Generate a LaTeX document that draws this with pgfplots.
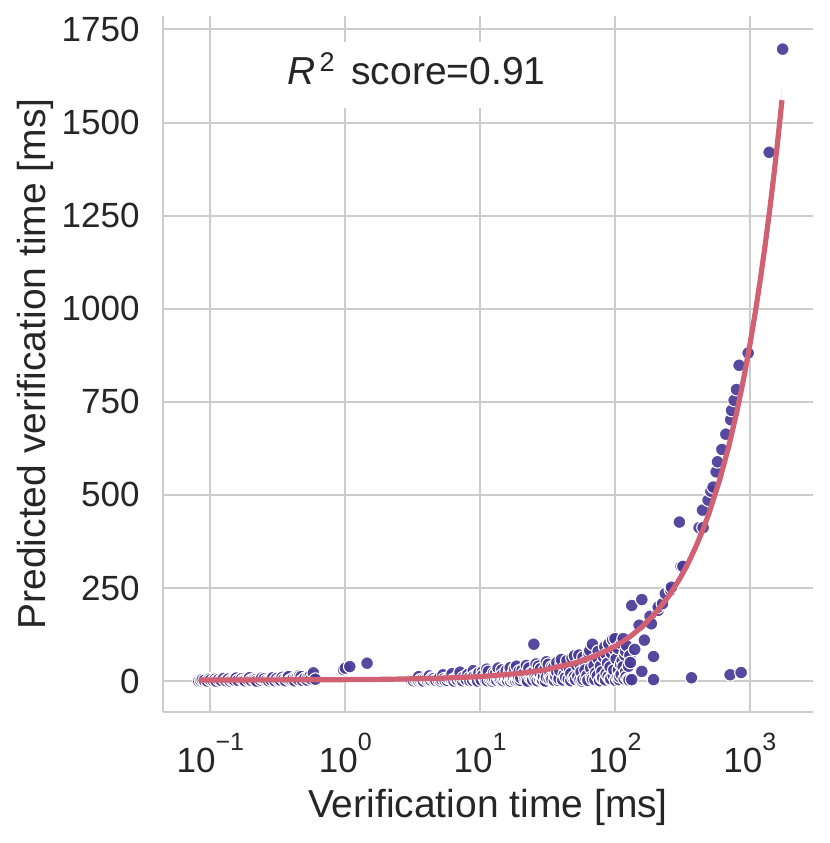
\documentclass[border=0pt]{standalone}
\usepackage{fontspec}
\setmainfont{Liberation Sans}
\usepackage{pgfplots}
\pgfplotsset{compat=1.18}
\definecolor{pts}{RGB}{72,58,152}
\definecolor{reg}{RGB}{208,96,114}
\definecolor{grd}{RGB}{204,204,204}
\definecolor{txt}{RGB}{38,38,38}
\newcommand\xtl[1]{10\raisebox{11pt}{\fontsize{12.5pt}{12.5pt}\selectfont #1}}
\begin{document}
\begin{tikzpicture}
\path[use as bounding box] (0,0) rectangle (415pt,421.5pt);
\begin{axis}[
  at={(81.5pt,65.5pt)}, anchor=south west, scale only axis,
  width=325pt, height=348pt,
  clip mode=individual,
  xmode=log, xmin=0.0445, xmax=2937, ymin=-83, ymax=1786,
  axis x line*=bottom, axis y line*=left,
  axis line style={-, draw=grd, line width=1.25pt},
  grid=major, major grid style={draw=grd, line width=1pt},
  major tick length=0pt, minor tick length=0pt, tick style={draw=none},
  xtick={0.1,1,10,100,1000},
  xticklabels={{\xtl{−1}},{\xtl{0}},{\xtl{1}},{\xtl{2}},{\xtl{3}}},
  ytick={0,250,500,750,1000,1250,1500,1750},
  yticklabels={0,250,500,750,1000,1250,1500,1750},
  tick label style={font=\fontsize{17.5pt}{21pt}\selectfont, text=txt},
  xticklabel style={anchor=base, inner sep=0pt, yshift=-30pt},
  yticklabel style={anchor=east, inner sep=0pt, xshift=-11.5pt},
  label style={font=\fontsize{19.5pt}{23pt}\selectfont, text=txt},
  xlabel={Verification time [ms]},
  ylabel={Predicted verification time [ms]},
  xlabel style={at={(axis description cs:0.5,-0.151)}, anchor=base, inner sep=0pt},
  ylabel style={at={(axis description cs:-0.1815,0.5)}, anchor=base, inner sep=0pt},
]
% scatter points
\addplot[only marks, mark=*, mark size=3.2pt,
  mark options={fill=pts, draw=white, line width=0.55pt, fill opacity=0.92}]
table {
x y
0.082 0
0.085 1
0.087 4
0.09 2
0.095 0
0.098 6
0.1 3
0.105 1
0.108 5
0.11 0
0.115 4
0.12 2
0.125 7
0.13 1
0.135 5
0.14 0
0.145 3
0.15 3
0.155 8
0.16 2
0.17 6
0.175 2
0.18 1
0.19 4
0.195 9
0.2 2
0.21 5
0.215 3
0.22 0
0.235 3
0.24 8
0.25 6
0.26 2
0.27 1
0.28 4
0.29 9
0.3 1
0.31 7
0.32 2
0.33 3
0.34 10
0.35 5
0.36 1
0.37 8
0.38 12
0.39 2
0.4 3
0.41 6
0.42 1
0.43 10
0.44 9
0.45 4
0.46 15
0.47 12
0.48 2
0.5 7
0.52 3
0.53 10
0.55 14
0.56 6
0.58 22
0.6 5
0.97 31
1.0 35
1.08 39
1.45 48
3.1 2
3.2 1
3.3 5
3.4 6
3.5 1
3.5 12
3.6 3
3.7 4
3.8 0
3.9 7
4.0 5
4.1 0
4.2 2
4.2 14
4.3 3
4.4 8
4.5 6
4.6 1
4.7 2
4.9 4
5.0 9
5.1 0
5.2 4
5.3 17
5.4 6
5.5 1
5.7 2
5.8 8
6.0 12
6.1 5
6.2 20
6.3 3
6.4 0
6.6 6
6.8 3
6.9 15
7.0 8
7.1 24
7.2 2
7.4 1
7.5 10
7.8 5
7.9 4
8.0 14
8.1 18
8.3 9
8.4 1
8.7 8
8.8 2
8.9 28
9.0 13
9.2 6
9.4 4
9.5 18
9.6 0
9.8 22
10 7
10.2 3
10.4 25
10.5 16
10.8 8
11 2
11.2 32
11.3 1
11.5 26
11.8 5
12 10
12.3 0
12.5 5
12.6 22
12.8 7
13 20
13.3 2
13.5 13
13.6 35
13.8 9
14 3
14.3 4
14.5 30
14.6 17
14.8 1
15 8
15.3 6
15.5 18
15.6 28
15.8 3
16 1
16.3 10
16.5 24
16.7 36
16.8 0
17 11
17.3 4
17.5 5
17.6 20
17.8 8
18 33
18.3 1
18.5 15
18.6 40
18.8 5
19 2
19.3 9
19.5 27
19.8 2
20 9
20.5 30
21 20
21.5 6
22 4
22 42
22.5 0
23 35
23.5 9
24 12
24 22
24.5 3
25 99
25 26
25.5 11
26 6
26 46
26.5 1
27 40
27.5 7
28 17
28 33
28.5 4
29 3
29.5 12
30 30
30.5 0
31 10
31 52
32 45
32.5 6
33 22
33.5 9
34 5
34 38
35 36
35.5 2
36 14
36.5 11
37 50
37 25
38 2
38.5 7
39 28
40 47
40 58
41 3
42 18
43 10
43 40
44 55
45 5
46 33
47 1
47 20
48 62
49 8
50 12
50 68
51 4
52 42
53 13
54 70
55 3
55 45
56 25
57 0
58 64
58 4.5
60 50
60 30
61 7
62 15
63 2
64 75
65 82
66 35
67 10
68 99
68 5
70 58
70 42
71 4
72 22
74 14
75 80
75 60
77 1
78 40
80 8
80 25
81 9
82 65
84 92
85 3
86 20
86 72
88 48
89 12
90 100
92 5
92 38
93 6
94 75
96 111
97 15
98 30
99 85
100 114
101 2
102 60
104 9
105 88
106 30
107 4
108 12
110 45
111 18
112 100
113 55
115 114
115 39
117 6
118 70
120 25
120 80
121 12
122 95
125 5
126 40
127 3
129 69
130 50
133 4
133 203
140 85
151 150
158 219
158 26
165 110
182 174
186 154
193 66
193 4
209 190
209 199
225 208
236 235
258 245
262 252
300 427
309 308
319 308
369 9
420 412
445 459
450 412
490 486
514 510
534 521
562 562
575 589
620 622
663 663
713 17
720 702
731 727
764 754
795 783
832 848
861 23
971 881
1390 1420
1750 1697
};
% confidence band
\addplot[draw=none, fill=reg, fill opacity=0.13] coordinates {
(0.082,6.07) (1,6.9) (10,15.25) (30,33.75) (100,98.5) (150,146.25) (200,191) (250,239.25) (300,283.5) (400,376) (500,468.5) (600,561) (700,653.5) (800,746) (1000,931) (1200,1116) (1300,1208.5) (1500,1393.5) (1730,1606.25)
(1730,1513.75) (1500,1312.5) (1300,1137.5) (1200,1050) (1000,875) (800,700) (700,612.5) (600,525) (500,437.5) (400,350) (300,262.5) (250,216.75) (200,175) (150,131.25) (100,87.5) (30,26.25) (10,8.75) (1,0.9) (0.082,0.07)
} -- cycle;
% regression line
\addplot[draw=reg, line width=2.6pt] coordinates {
(0.082,3.07) (0.2,3.18) (0.5,3.45) (1,3.9) (2,4.8) (5,7.5) (10,12) (20,21) (30,30) (50,48) (70,66) (100,93) (130,120) (160,147) (200,183) (250,228) (300,273) (350,318) (400,363) (450,408) (500,453) (600,543) (700,633) (800,723) (900,813) (1000,903) (1100,993) (1200,1083) (1300,1173) (1400,1263) (1500,1353) (1600,1443) (1730,1560)
};
\node[fill=white, anchor=base, inner sep=0pt, inner xsep=8pt, text height=21.7pt, text depth=11.5pt,
  font=\fontsize{19.5pt}{23pt}\selectfont, text=txt]
  at (rel axis cs:0.39,0.9009) {\textit{R}\hspace{2pt}\raisebox{6.7pt}{\fontsize{13.5pt}{13.5pt}\selectfont 2}\hspace{3pt} score=0.91};
\end{axis}
\end{tikzpicture}
\end{document}
